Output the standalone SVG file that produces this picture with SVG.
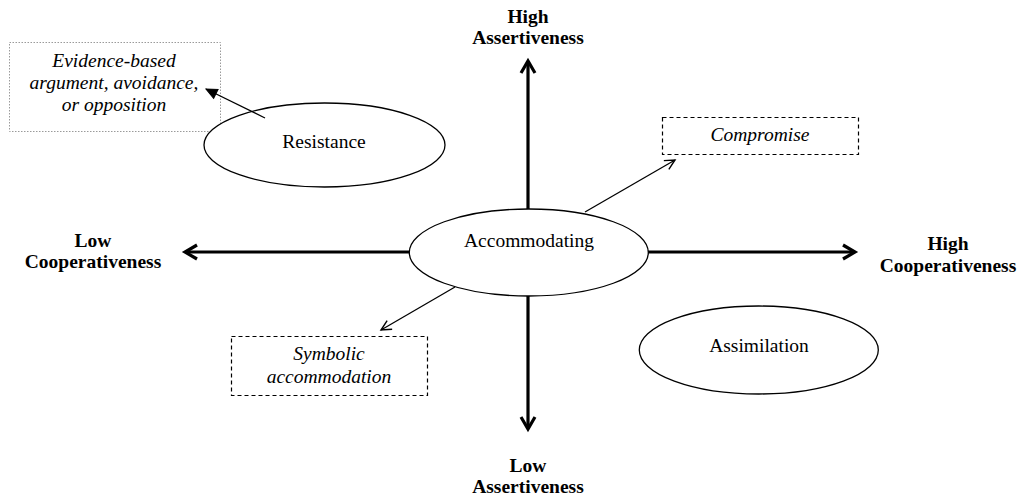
<svg xmlns="http://www.w3.org/2000/svg" width="1019" height="499" viewBox="0 0 1019 499">
<style>
.bg{fill:#fff}
.ell{fill:#fff;stroke:#000;stroke-width:1.3}
.dash{fill:none;stroke:#000;stroke-width:1.2;stroke-dasharray:4 3}
.dot{fill:none;stroke:#9a9a9a;stroke-width:1;stroke-dasharray:1.5 1.5}
.axis{stroke:#000;stroke-width:3.2;fill:none}
.thin{stroke:#000;stroke-width:1.3;fill:none}
text{font-family:'Liberation Serif','Times New Roman',Times,serif;font-size:19.5px;fill:#000;text-anchor:middle}
.b{font-weight:bold}
.i{font-style:italic}
</style>
<defs>
<marker id="bigArrow" viewBox="-16 -10 20 20" refX="0" refY="0" markerWidth="20" markerHeight="20" markerUnits="userSpaceOnUse" orient="auto">
<path d="M-12,-7 L0,0 L-12,7" fill="none" stroke="#000" stroke-width="3.2" stroke-linejoin="miter"/>
</marker>
<marker id="smallArrow" viewBox="-12 -8 16 16" refX="0" refY="0" markerWidth="16" markerHeight="16" markerUnits="userSpaceOnUse" orient="auto">
<path d="M-10,-5 L0,0 L-10,5" fill="none" stroke="#000" stroke-width="1.4"/>
</marker>
<marker id="solidArrow" viewBox="-14 -8 16 16" refX="0" refY="0" markerWidth="16" markerHeight="16" markerUnits="userSpaceOnUse" orient="auto">
<path d="M-11,-5 L0,0 L-11,5 Z" fill="#000" stroke="#000" stroke-width="1"/>
</marker>
</defs>
<rect class="bg" x="0" y="0" width="1019" height="499"/>

<g font-family="Liberation Serif, serif">
<g id="evidence-box">
<rect class="dot" x="9.5" y="42.5" width="211" height="89"/>
<text class="i" x="114" y="67">Evidence-based</text>
<text class="i" x="114" y="89">argument, avoidance,</text>
<text class="i" x="114" y="111">or opposition</text>
</g>

<g id="connectors">
<line class="axis" x1="528" y1="252" x2="528" y2="61" marker-end="url(#bigArrow)"/>
<line class="axis" x1="528" y1="252" x2="528" y2="429" marker-end="url(#bigArrow)"/>
<line class="axis" x1="528" y1="252" x2="185" y2="252" marker-end="url(#bigArrow)"/>
<line class="axis" x1="528" y1="252" x2="855" y2="252" marker-end="url(#bigArrow)"/>
</g>

<g id="resistance">
<ellipse class="ell" cx="324.5" cy="145" rx="120.5" ry="42"/>
<text x="324" y="148">Resistance</text>
</g>

<g id="connectors-thin">
<line class="thin" x1="265" y1="118" x2="206" y2="89" stroke-width="1.6" marker-end="url(#solidArrow)"/>
<line class="thin" x1="585" y1="212" x2="675" y2="160" marker-end="url(#smallArrow)"/>
<line class="thin" x1="455" y1="287" x2="381" y2="330" marker-end="url(#smallArrow)"/>
</g>

<g id="accommodating">
<ellipse class="ell" cx="528.8" cy="252.5" rx="119.5" ry="43.5"/>
<text x="529" y="246.5">Accommodating</text>
</g>

<g id="compromise">
<rect class="dash" x="662.5" y="117.5" width="196" height="37"/>
<text class="i" x="760" y="141">Compromise</text>
</g>

<g id="symbolic">
<rect class="dash" x="231.5" y="336.5" width="196" height="59"/>
<text class="i" x="329" y="360">Symbolic</text>
<text class="i" x="329" y="383">accommodation</text>
</g>

<g id="assimilation">
<ellipse class="ell" cx="758.8" cy="350" rx="119.5" ry="44"/>
<text x="759" y="352">Assimilation</text>
</g>

<g id="label-high-assertiveness">
<text class="b" x="528" y="22.5">High</text>
<text class="b" x="528" y="44">Assertiveness</text>
</g>
<g id="label-low-assertiveness">
<text class="b" x="528" y="472">Low</text>
<text class="b" x="528" y="493">Assertiveness</text>
</g>
<g id="label-low-cooperativeness">
<text class="b" x="93" y="247">Low</text>
<text class="b" x="93" y="268">Cooperativeness</text>
</g>
<g id="label-high-cooperativeness">
<text class="b" x="948" y="250">High</text>
<text class="b" x="948" y="271.5">Cooperativeness</text>
</g>
</g>
</svg>
